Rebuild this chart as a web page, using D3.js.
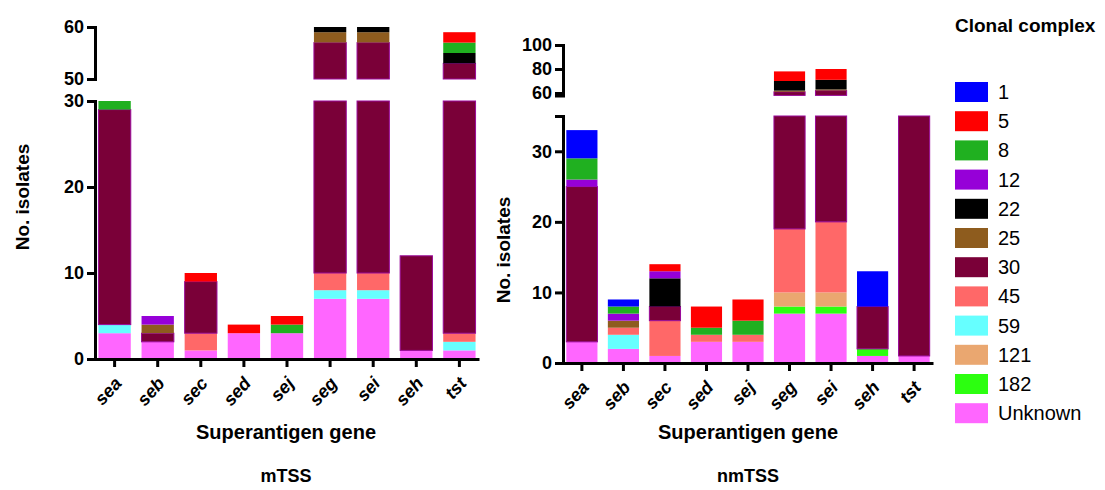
<!DOCTYPE html>
<html>
<head>
<meta charset="utf-8">
<script src="https://cdn.jsdelivr.net/npm/d3@7"></script>
<style>
    body { margin: 0; background: #fff; }
    svg text { font-family: "Liberation Sans", Arial, sans-serif; }
</style>
</head>
<body>
<svg id="chart" width="1105" height="490"></svg>
<script>
const genes = ['sea', 'seb', 'sec', 'sed', 'sej', 'seg', 'sei', 'seh', 'tst'];
const complexes = ['1', '5', '8', '12', '22', '25', '30', '45', '59', '121', '182', 'Unknown'];
const colors = ['#0000ff', '#ff0000', '#20b020', '#9600d8', '#000000', '#8e5c1e', '#7a0038',
    '#ff6868', '#66ffff', '#eaa770', '#2cff10', '#ff66ff'];

// isolates per clonal complex (rows, same order as complexes), one value per gene
const mtssCounts = [
    [0, 0, 0, 0, 0, 0, 0, 0, 0],    // 1
    [0, 0, 1, 1, 1, 0, 0, 0, 2],    // 5
    [1, 0, 0, 0, 1, 0, 0, 0, 2],    // 8
    [0, 1, 0, 0, 0, 0, 0, 0, 0],    // 12
    [0, 0, 0, 0, 0, 1, 1, 0, 2],    // 22
    [0, 1, 0, 0, 0, 2, 2, 0, 0],    // 25
    [25, 1, 6, 0, 0, 47, 47, 11, 50], // 30
    [0, 0, 2, 0, 0, 2, 2, 0, 1],    // 45
    [1, 0, 0, 0, 0, 1, 1, 0, 1],    // 59
    [0, 0, 0, 0, 0, 0, 0, 0, 0],    // 121
    [0, 0, 0, 0, 0, 0, 0, 0, 0],    // 182
    [3, 2, 1, 3, 3, 7, 7, 1, 1]     // Unknown
];

const nmtssCounts = [
    [4, 1, 0, 0, 0, 0, 0, 5, 0],    // 1
    [0, 0, 1, 3, 3, 8, 9, 0, 0],    // 5
    [3, 1, 0, 1, 2, 0, 0, 0, 0],    // 8
    [1, 1, 1, 0, 0, 0, 0, 0, 0],    // 12
    [0, 0, 4, 0, 0, 8, 8, 0, 0],    // 22
    [0, 1, 0, 0, 0, 1, 1, 0, 0],    // 25
    [22, 0, 2, 0, 0, 42, 42, 6, 34], // 30
    [0, 1, 5, 1, 1, 9, 10, 0, 0],   // 45
    [0, 2, 0, 0, 0, 0, 0, 0, 0],    // 59
    [0, 0, 0, 0, 0, 2, 2, 0, 0],    // 121
    [0, 0, 0, 0, 0, 1, 1, 1, 0],    // 182
    [3, 2, 1, 3, 3, 7, 7, 1, 1]     // Unknown
];

const mtssLowTicks = [0, 10, 20, 30];
const mtssUpTicks = [50, 60];
const nmtssLowTicks = [0, 10, 20, 30];
const nmtssUpTicks = [60, 80, 100];

const svg = d3.select('#chart');
const color = d3.scaleOrdinal().domain(complexes).range(colors);

const panels = [{
    counts: mtssCounts, name: 'mTSS', xRange: [95, 479],
    low: [0, 30], lowY: [359, 101], up: [50, 60], upY: [79, 27],
    lowTicks: mtssLowTicks, upTicks: mtssUpTicks,
    yLabel: [22, 197], titleX: 286
}, {
    counts: nmtssCounts, name: 'nmTSS', xRange: [563, 933],
    low: [0, 35], lowY: [363, 116], up: [58, 100], upY: [95.4, 45],
    lowTicks: nmtssLowTicks, upTicks: nmtssUpTicks,
    yLabel: [503, 250], titleX: 748
}];

function styleAxis(g) {
    g.attr('font-family', null).attr('font-size', null);
    g.selectAll('path, line').attr('stroke', '#000').attr('stroke-width', 3);
    g.selectAll('text').attr('fill', '#000');
}

panels.forEach(p => {
    const rows = genes.map((gene, j) => {
        const r = { gene };
        complexes.forEach((c, i) => r[c] = p.counts[i][j]);
        return r;
    });
    const series = d3.stack().keys(complexes.slice().reverse())(rows);

    const x = d3.scaleBand().domain(genes).range(p.xRange).paddingInner(0.25).paddingOuter(0.08);
    const yLow = d3.scaleLinear().domain(p.low).range(p.lowY);
    const yUp = d3.scaleLinear().domain(p.up).range(p.upY);

    // split every stacked segment into the part below and above the axis break
    const pieces = [];
    series.forEach(s => s.forEach(d => {
        if (d[1] <= d[0]) return;
        if (d[0] < p.low[1]) {
            pieces.push({ key: s.key, gene: d.data.gene, top: yLow(Math.min(d[1], p.low[1])), bot: yLow(d[0]) });
        }
        if (d[1] > p.up[0]) {
            pieces.push({ key: s.key, gene: d.data.gene, top: yUp(Math.min(d[1], p.up[1])), bot: yUp(Math.max(d[0], p.up[0])) });
        }
    }));

    svg.append('g')
        .selectAll('rect')
        .data(pieces)
        .enter()
        .append('rect')
        .attr('x', d => x(d.gene))
        .attr('width', x.bandwidth())
        .attr('y', d => d.top)
        .attr('height', d => d.bot - d.top)
        .attr('fill', d => color(d.key))
        .attr('stroke', d => d.key === '30' ? '#9a0a9a' : 'none')
        .attr('stroke-width', 1);

    const yAxisX = p.xRange[0];
    [[yLow, p.lowTicks], [yUp, p.upTicks]].forEach(([scale, ticks]) => {
        svg.append('g')
            .attr('transform', `translate(${yAxisX},0)`)
            .call(d3.axisLeft(scale).tickValues(ticks).tickSize(8).tickSizeOuter(8).tickPadding(3))
            .call(styleAxis)
            .selectAll('text')
            .attr('font-size', 18)
            .attr('font-weight', 'bold');
    });

    const xAxis = svg.append('g')
        .attr('transform', `translate(0,${p.lowY[0]})`)
        .call(d3.axisBottom(x).tickSize(8).tickSizeOuter(0))
        .call(styleAxis);
    xAxis.selectAll('text')
        .attr('font-size', 18)
        .attr('font-style', 'italic')
        .attr('font-weight', 'bold')
        .attr('text-anchor', 'end')
        .attr('dy', null)
        .attr('y', null)
        .attr('transform', 'translate(8,25) rotate(-48)');

    svg.append('text')
        .attr('transform', `translate(${p.yLabel[0]},${p.yLabel[1]}) rotate(-90)`)
        .attr('text-anchor', 'middle')
        .attr('dy', '0.35em')
        .attr('font-size', 19)
        .attr('font-weight', 'bold')
        .text('No. isolates');

    svg.append('text')
        .attr('x', p.titleX)
        .attr('y', 439)
        .attr('text-anchor', 'middle')
        .attr('font-size', 20)
        .attr('font-weight', 'bold')
        .text('Superantigen gene');

    svg.append('text')
        .attr('x', p.titleX)
        .attr('y', 482)
        .attr('text-anchor', 'middle')
        .attr('font-size', 18)
        .attr('font-weight', 'bold')
        .text(p.name);
});

// legend
const legend = svg.append('g').attr('transform', 'translate(955,0)');
legend.append('text')
    .attr('x', 0)
    .attr('y', 32)
    .attr('font-size', 19)
    .attr('font-weight', 'bold')
    .text('Clonal complex');

const item = legend.selectAll('g.item')
    .data(complexes)
    .enter()
    .append('g')
    .attr('class', 'item')
    .attr('transform', (d, i) => `translate(0,${92 + i * 29.2})`);

item.append('rect')
    .attr('y', -10)
    .attr('width', 33)
    .attr('height', 20)
    .attr('fill', d => color(d));

item.append('text')
    .attr('x', 43)
    .attr('y', 7)
    .attr('font-size', 20)
    .text(d => d);
</script>
</body>
</html>
